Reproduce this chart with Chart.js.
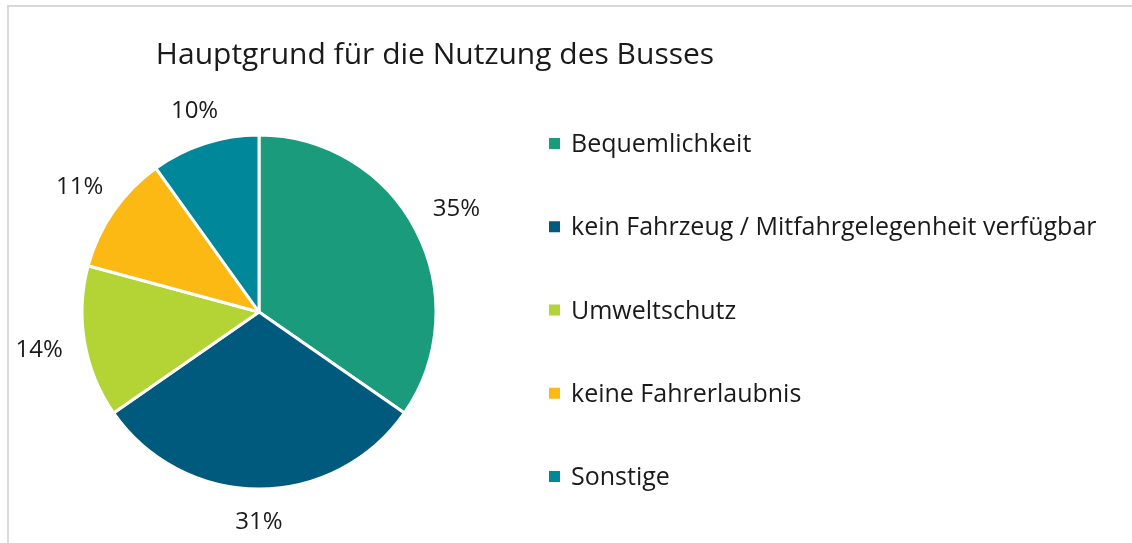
<!DOCTYPE html>
<html>
<head>
<meta charset="utf-8">
<title>Hauptgrund für die Nutzung des Busses</title>
<script src="https://cdn.jsdelivr.net/npm/chart.js@4.4.1/dist/chart.umd.min.js"></script>
<style>
  html, body { margin: 0; padding: 0; background: #fff; }
  #wrap { position: relative; width: 1132px; height: 543px; overflow: hidden; }
  #frame { position: absolute; left: 7px; top: 5px; width: 1200px; height: 600px;
           border: 2px solid #d9d9d9; box-sizing: border-box; }
  #chart { position: absolute; left: 0; top: 0; }
</style>
</head>
<body>
<div id="wrap">
  <div id="frame"></div>
  <canvas id="chart" width="1132" height="543"></canvas>
</div>
<script>
const chartTitle = 'Hauptgrund für die Nutzung des Busses';
const categories = [
    'Bequemlichkeit',
    'kein Fahrzeug / Mitfahrgelegenheit verfügbar',
    'Umweltschutz',
    'keine Fahrerlaubnis',
    'Sonstige'
];
const shares = [35, 31, 14, 11, 10];
const sliceColors = ['#1a9b7b', '#005a7d', '#b4d335', '#fdb913', '#00879a'];

const FONT = '"Open Sans", "Noto Sans", sans-serif';
const TEXT_COLOR = '#1a1a1a';

// title, percent labels outside the slices and the legend on the right
const pieExtras = {
    id: 'pieExtras',
    afterDatasetsDraw(chart) {
        const ctx = chart.ctx;
        const meta = chart.getDatasetMeta(0);
        ctx.save();
        ctx.fillStyle = TEXT_COLOR;

        ctx.font = '30px ' + FONT;
        ctx.textAlign = 'center';
        ctx.textBaseline = 'alphabetic';
        ctx.fillText(chartTitle, 435, 64);

        ctx.font = '24px ' + FONT;
        ctx.textBaseline = 'middle';
        meta.data.forEach((arc, i) => {
            const p = arc.getProps(['x', 'y', 'startAngle', 'endAngle', 'outerRadius'], true);
            const mid = (p.startAngle + p.endAngle) / 2;
            const text = shares[i] + '%';
            const halfW = ctx.measureText(text).width / 2;
            const halfH = 11;
            const c = Math.abs(Math.cos(mid));
            const s = Math.abs(Math.sin(mid));
            const ext = Math.min(c > 1e-3 ? halfW / c : Infinity, s > 1e-3 ? halfH / s : Infinity);
            const r = p.outerRadius + 22 + ext;
            ctx.fillText(text, p.x + r * Math.cos(mid), p.y + r * Math.sin(mid));
        });

        ctx.font = '25px ' + FONT;
        ctx.textAlign = 'left';
        ctx.textBaseline = 'alphabetic';
        categories.forEach((label, i) => {
            const base = 152 + i * 83.25;
            ctx.fillStyle = sliceColors[i];
            ctx.fillRect(549, base - 14, 11, 11);
            ctx.fillStyle = TEXT_COLOR;
            ctx.fillText(label, 571, base);
        });
        ctx.restore();
    }
};

const ctx = document.getElementById('chart');
new Chart(ctx, {
    type: 'pie',
    data: {
        labels: categories,
        datasets: [{
            data: shares,
            backgroundColor: sliceColors,
            borderColor: '#ffffff',
            borderWidth: 3,
            radius: 177
        }]
    },
    options: {
        responsive: false,
        animation: false,
        layout: {
            padding: { left: 0, right: 614, top: 100, bottom: 19 }
        },
        plugins: {
            legend: { display: false },
            title: { display: false },
            tooltip: { enabled: false }
        }
    },
    plugins: [pieExtras]
});
</script>
</body>
</html>
